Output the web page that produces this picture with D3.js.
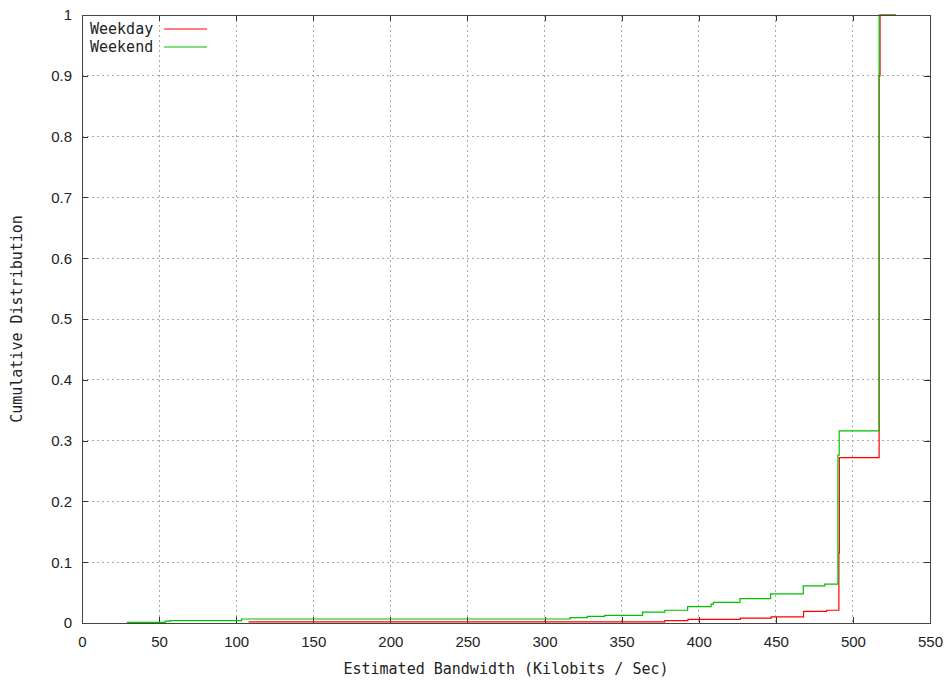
<!DOCTYPE html>
<html>
<head>
<meta charset="utf-8">
<script src="https://cdn.jsdelivr.net/npm/d3@7"></script>
<style>
  body { margin: 0; background: #fff; }
  svg { display: block; font-family: "DejaVu Sans Mono", monospace; }
  .axis text { font-size: 15px; fill: #222; }
  .axis .domain { display: none; }
  .axis .tick line { stroke: #333; }
  .grid line { stroke: #aaa; stroke-dasharray: 2,3; }
</style>
</head>
<body>
<svg id="chart" width="951" height="682"></svg>
<script>
// weekday CDF (step points)
var weekdayX = [108, 378, 393, 427, 447, 468, 483, 490.9, 491.2, 517.0, 517.6, 517.6, 528];
var weekdayY = [0.0017, 0.004, 0.006, 0.008, 0.010, 0.019, 0.021, 0.115, 0.272, 0.9, 0.967, 1.0, 1.0];

// weekend CDF (step points)
var weekendX = [29, 54, 57, 103.5, 316.5, 327.7, 339, 363.6, 378, 392.8, 408, 409.5, 426.7, 446.6, 467.8, 481.8, 490.3, 491.1, 517.0, 528];
var weekendY = [0.001, 0.003, 0.004, 0.0066, 0.0087, 0.011, 0.0126, 0.018, 0.021, 0.027, 0.031, 0.034, 0.040, 0.048, 0.061, 0.064, 0.276, 0.316, 1.0, 1.0];

var xTicks = [0, 50, 100, 150, 200, 250, 300, 350, 400, 450, 500, 550];
var yTicks = [0, 0.1, 0.2, 0.3, 0.4, 0.5, 0.6, 0.7, 0.8, 0.9, 1];
var seriesNames = ["Weekday", "Weekend"];

var color = {
  "Weekday": "#ff0000",
  "Weekend": "#00c000"
};

var svg = d3.select("#chart"),
    margin = {top: 15, right: 21, bottom: 59, left: 82},
    width = +svg.attr("width") - margin.left - margin.right,
    height = +svg.attr("height") - margin.top - margin.bottom,
    g = svg.append("g").attr("transform", "translate(" + margin.left + "," + margin.top + ")");

var xScale = d3.scaleLinear().domain([0, 550]).range([0, width]),
    yScale = d3.scaleLinear().domain([0, 1]).range([height, 0]);

// grid
var grid = g.append("g").attr("class", "grid").attr("shape-rendering", "crispEdges");
grid.selectAll(".gx")
  .data(xTicks.slice(1, -1))
  .enter().append("line")
    .attr("x1", function(d) { return xScale(d); })
    .attr("x2", function(d) { return xScale(d); })
    .attr("y1", 0)
    .attr("y2", height);
grid.selectAll(".gy")
  .data(yTicks.slice(1, -1))
  .enter().append("line")
    .attr("y1", function(d) { return yScale(d); })
    .attr("y2", function(d) { return yScale(d); })
    .attr("x1", 0)
    .attr("x2", width);

// axes, ticks pointing inward, mirrored on top/right
g.append("g")
    .attr("class", "axis axis--x")
    .attr("transform", "translate(0," + height + ")")
    .attr("shape-rendering", "crispEdges")
    .call(d3.axisBottom(xScale).tickValues(xTicks).tickSize(-6).tickPadding(0).tickFormat(d3.format("d")))
  .selectAll("text")
    .attr("y", 19)
    .attr("dy", "0.32em");

g.append("g")
    .attr("class", "axis axis--y")
    .attr("shape-rendering", "crispEdges")
    .call(d3.axisLeft(yScale).tickValues(yTicks).tickSize(-6).tickPadding(0).tickFormat(function(d) { return String(+d.toFixed(1)); }))
  .selectAll("text")
    .attr("x", -10);

g.append("g")
    .attr("class", "axis")
    .attr("shape-rendering", "crispEdges")
    .call(d3.axisTop(xScale).tickValues(xTicks).tickSize(-6).tickFormat(""));

g.append("g")
    .attr("class", "axis")
    .attr("transform", "translate(" + width + ",0)")
    .attr("shape-rendering", "crispEdges")
    .call(d3.axisRight(yScale).tickValues(yTicks).tickSize(-6).tickFormat(""));

// lines
var line = d3.line()
    .curve(d3.curveStepAfter)
    .x(function(d) { return xScale(d[0]); })
    .y(function(d) { return yScale(d[1]); });

var series = [
  {id: "Weekday", values: d3.zip(weekdayX, weekdayY)},
  {id: "Weekend", values: d3.zip(weekendX, weekendY)}
];

g.selectAll(".series")
  .data(series)
  .enter().append("path")
    .attr("class", "series")
    .attr("fill", "none")
    .attr("stroke", function(d) { return color[d.id]; })
    .attr("stroke-width", 1.2)
    .attr("d", function(d) { return line(d.values); });

// border
g.append("rect")
    .attr("width", width)
    .attr("height", height)
    .attr("fill", "none")
    .attr("stroke", "#444")
    .attr("shape-rendering", "crispEdges");

// legend
var legend = g.selectAll(".legend")
  .data(seriesNames)
  .enter().append("g")
    .attr("class", "legend")
    .attr("transform", function(d, i) { return "translate(0," + (14 + i * 18) + ")"; });

legend.append("text")
    .attr("x", 8)
    .attr("dy", "0.35em")
    .style("font-size", "15px")
    .style("fill", "#222")
    .text(function(d) { return d; });

legend.append("line")
    .attr("x1", 82)
    .attr("x2", 125)
    .attr("stroke", function(d) { return color[d]; })
    .attr("stroke-width", 1.2);

// axis titles
svg.append("text")
    .attr("x", margin.left + width / 2)
    .attr("y", 669)
    .attr("text-anchor", "middle")
    .attr("dy", "0.35em")
    .style("font-size", "15px")
    .style("fill", "#222")
    .text("Estimated Bandwidth (Kilobits / Sec)");

svg.append("text")
    .attr("transform", "translate(17," + (margin.top + height / 2) + ") rotate(-90)")
    .attr("text-anchor", "middle")
    .attr("dy", "0.35em")
    .style("font-size", "15px")
    .style("fill", "#222")
    .text("Cumulative Distribution");
</script>
</body>
</html>
